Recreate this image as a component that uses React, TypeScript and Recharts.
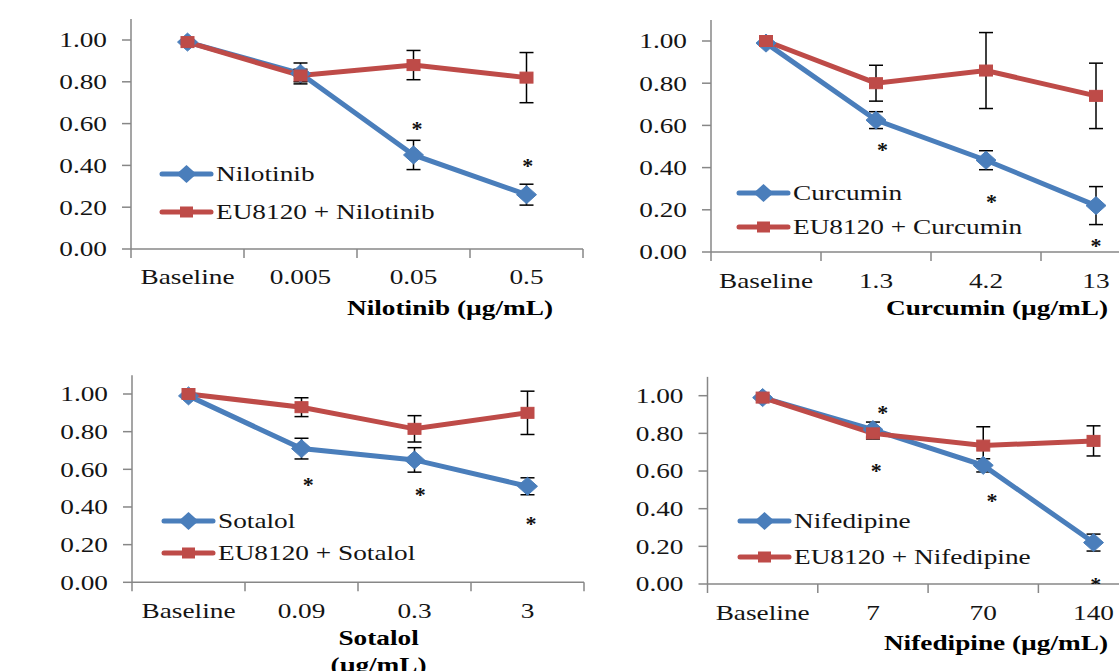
import React from 'react';
import { ComposedChart, Line, XAxis, YAxis, ErrorBar, Scatter, Legend } from 'recharts';

const FONT = '"Liberation Serif", "Times New Roman", serif';
const SX = 1.3;
const FS = 21;
const BLUE = '#4A7EBB';
const RED = '#BE4B48';
const AXIS = '#878787';
const TEXT = '#141414';

const yTicks = [0, 0.2, 0.4, 0.6, 0.8, 1.0];

// Panel 1: Nilotinib
const nilotinibCats = ['Baseline', '0.005', '0.05', '0.5'];
const nilotinibVals = [0.99, 0.84, 0.45, 0.26];
const nilotinibErr = [0, 0.05, 0.07, 0.05];
const euNilotinibVals = [0.99, 0.83, 0.88, 0.82];
const euNilotinibErr = [0, 0.03, 0.07, 0.12];
const nilotinibStarX = [2.03, 3.01];
const nilotinibStarY = [0.59, 0.41];

// Panel 2: Curcumin
const curcuminCats = ['Baseline', '1.3', '4.2', '13'];
const curcuminVals = [0.99, 0.625, 0.435, 0.22];
const curcuminErr = [0, 0.04, 0.045, 0.09];
const euCurcuminVals = [1.0, 0.8, 0.86, 0.74];
const euCurcuminErr = [0, 0.085, 0.18, 0.155];
const curcuminStarX = [1.06, 2.05, 3.0];
const curcuminStarY = [0.5, 0.25, 0.043];

// Panel 3: Sotalol
const sotalolCats = ['Baseline', '0.09', '0.3', '3'];
const sotalolVals = [0.99, 0.71, 0.65, 0.51];
const sotalolErr = [0, 0.055, 0.065, 0.045];
const euSotalolVals = [1.0, 0.93, 0.815, 0.9];
const euSotalolErr = [0, 0.05, 0.07, 0.115];
const sotalolStarX = [1.06, 2.05, 3.03];
const sotalolStarY = [0.534, 0.481, 0.327];

// Panel 4: Nifedipine
const nifedipineCats = ['Baseline', '7', '70', '140'];
const nifedipineVals = [0.99, 0.82, 0.63, 0.22];
const nifedipineErr = [0, 0.04, 0.035, 0.045];
const euNifedipineVals = [0.99, 0.8, 0.735, 0.76];
const euNifedipineErr = [0, 0.03, 0.1, 0.08];
const nifedipineStarX = [1.09, 1.03, 2.08, 3.02];
const nifedipineStarY = [0.924, 0.614, 0.458, 0.012];

type Cfg = {
  left: number; top: number; height: number;
  cats: string[]; a: number[]; aErr: number[]; b: number[]; bErr: number[];
  nameA: string; nameB: string; starX: number[]; starY: number[];
  axisX: number; step: number; zeroY: number; unit: number; labelDy: number;
  title: string[]; titleX: number; titleY: number; titleGap: number;
  legX: number; legY: number[];
};

const panels: Cfg[] = [
  {
    left: 0, top: 0, height: 330,
    cats: nilotinibCats, a: nilotinibVals, aErr: nilotinibErr, b: euNilotinibVals, bErr: euNilotinibErr,
    nameA: 'Nilotinib', nameB: 'EU8120 + Nilotinib', starX: nilotinibStarX, starY: nilotinibStarY,
    axisX: 131, step: 113, zeroY: 249, unit: 209, labelDy: 35,
    title: ['Nilotinib (µg/mL)'], titleX: 450, titleY: 315, titleGap: 27,
    legX: 162, legY: [174, 212],
  },
  {
    left: 560, top: 0, height: 330,
    cats: curcuminCats, a: curcuminVals, aErr: curcuminErr, b: euCurcuminVals, bErr: euCurcuminErr,
    nameA: 'Curcumin', nameB: 'EU8120 + Curcumin', starX: curcuminStarX, starY: curcuminStarY,
    axisX: 151, step: 110, zeroY: 252, unit: 211, labelDy: 36,
    title: ['Curcumin (µg/mL)'], titleX: 437, titleY: 315, titleGap: 27,
    legX: 179, legY: [192.7, 226.7],
  },
  {
    left: 0, top: 330, height: 341,
    cats: sotalolCats, a: sotalolVals, aErr: sotalolErr, b: euSotalolVals, bErr: euSotalolErr,
    nameA: 'Sotalol', nameB: 'EU8120 + Sotalol', starX: sotalolStarX, starY: sotalolStarY,
    axisX: 132, step: 113, zeroY: 252.3, unit: 188.3, labelDy: 36,
    title: ['Sotalol', '(µg/mL)'], titleX: 378.6, titleY: 315, titleGap: 27,
    legX: 164, legY: [190.7, 222.7],
  },
  {
    left: 560, top: 330, height: 341,
    cats: nifedipineCats, a: nifedipineVals, aErr: nifedipineErr, b: euNifedipineVals, bErr: euNifedipineErr,
    nameA: 'Nifedipine', nameB: 'EU8120 + Nifedipine', starX: nifedipineStarX, starY: nifedipineStarY,
    axisX: 147.5, step: 110.3, zeroY: 254, unit: 188.3, labelDy: 36,
    title: ['Nifedipine (µg/mL)'], titleX: 436, titleY: 320, titleGap: 27,
    legX: 180, legY: [190.7, 226.7],
  },
];

const diamondPath = (cx: number, cy: number) =>
  `M${cx - 10},${cy} L${cx},${cy - 9} L${cx + 10},${cy} L${cx},${cy + 9} Z`;

const DiamondDot = (p: any) => {
  if (p.cx == null || p.cy == null) return <g />;
  return <path d={diamondPath(p.cx, p.cy)} fill={BLUE} stroke={BLUE} strokeWidth={1} />;
};
const SquareDot = (p: any) => {
  if (p.cx == null || p.cy == null) return <g />;
  return <rect x={p.cx - 6.5} y={p.cy - 5.5} width={13} height={11} fill={RED} stroke={RED} strokeWidth={1} />;
};
const StarShape = (p: any) => (
  <text x={p.cx} y={p.cy + 10} textAnchor="middle" fontFamily={FONT} fontSize={22} fontWeight="bold" fill="#111">*</text>
);

const YTick = (p: any) => (
  <g transform={`translate(${p.x},${p.y})`}>
    <text transform={`scale(${SX},1)`} textAnchor="end" dy="0.35em" fontFamily={FONT} fontSize={FS} fill={TEXT}>
      {Number(p.payload.value).toFixed(2)}
    </text>
  </g>
);

const makeXTick = (cats: string[], labelDy: number) => (p: any) => {
  const v = p.payload.value;
  if (Number.isInteger(v)) {
    return (
      <g transform={`translate(${p.x},${p.y + labelDy})`}>
        <text transform={`scale(${SX},1)`} textAnchor="middle" fontFamily={FONT} fontSize={FS} fill={TEXT}>
          {cats[v]}
        </text>
      </g>
    );
  }
  return <line x1={p.x} x2={p.x} y1={p.y} y2={p.y + 9} stroke={AXIS} strokeWidth={1.5} />;
};

const makeLegend = (cfg: Cfg) => (props: any) => {
  const all = (props.payload || []).filter((e: any) => e.type !== 'none');
  const order = ['a', 'b'];
  const payload = order
    .map((k) => all.find((e: any) => e.dataKey === k))
    .filter(Boolean);
  const base = cfg.legY[0] - 20;
  return (
    <svg width={420} height={cfg.legY[1] - base + 22} style={{ display: 'block', overflow: 'visible' }}>
      {payload.map((e: any, k: number) => {
        const y = cfg.legY[k] - base;
        const isA = e.dataKey === 'a';
        return (
          <g key={k}>
            <line x1={0} x2={49} y1={y} y2={y} stroke={e.color} strokeWidth={5} strokeLinecap="round" />
            {isA ? (
              <path d={diamondPath(24.5, y)} fill={e.color} />
            ) : (
              <rect x={18} y={y - 5.5} width={13} height={11} fill={e.color} />
            )}
            <g transform={`translate(54,${y})`}>
              <text transform={`scale(${SX},1)`} dy="0.35em" fontFamily={FONT} fontSize={FS} fill={TEXT}>
                {e.value}
              </text>
            </g>
          </g>
        );
      })}
    </svg>
  );
};

const Panel = ({ cfg }: { cfg: Cfg }) => {
  const data = cfg.cats.map((c, i) => ({
    x: i,
    a: cfg.a[i],
    aErr: cfg.aErr[i],
    b: cfg.b[i],
    bErr: cfg.bErr[i],
  }));
  const stars = cfg.starX.map((sx, k) => ({ x: sx, star: cfg.starY[k] }));
  const width = cfg.axisX + 4 * cfg.step + 20;
  const topMargin = cfg.zeroY - 1.1 * cfg.unit;
  const TitleLabel = () => (
    <g>
      {cfg.title.map((t, k) => (
        <g key={k} transform={`translate(${cfg.titleX},${cfg.titleY + k * cfg.titleGap})`}>
          <text transform={`scale(${SX},1)`} textAnchor="middle" fontFamily={FONT} fontSize={FS} fontWeight="bold" fill="#000">
            {t}
          </text>
        </g>
      ))}
    </g>
  );
  return (
    <div style={{ position: 'absolute', left: cfg.left, top: cfg.top }}>
      <ComposedChart
        width={width}
        height={cfg.height}
        data={data}
        margin={{ top: topMargin, right: 20, bottom: 0, left: 0 }}
      >
        <XAxis
          type="number"
          dataKey="x"
          domain={[-0.5, 3.5]}
          ticks={[-0.5, 0, 0.5, 1, 1.5, 2, 2.5, 3, 3.5]}
          interval={0}
          tickSize={0}
          tickMargin={0}
          tickLine={false}
          axisLine={{ stroke: AXIS, strokeWidth: 1.5 }}
          tick={makeXTick(cfg.cats, cfg.labelDy)}
          height={cfg.height - cfg.zeroY}
          label={{ content: TitleLabel } as any}
          allowDataOverflow
        />
        <YAxis
          type="number"
          domain={[0, 1.1]}
          ticks={yTicks}
          interval={0}
          width={cfg.axisX}
          tickSize={9}
          tickMargin={15}
          axisLine={{ stroke: AXIS, strokeWidth: 1.5 }}
          tickLine={{ stroke: AXIS, strokeWidth: 1.5 }}
          tick={YTick}
          allowDataOverflow
        />
        <Legend
          layout="vertical"
          align="center"
          verticalAlign="middle"
          content={makeLegend(cfg)}
          wrapperStyle={{ left: cfg.legX, top: cfg.legY[0] - 20, width: 420 }}
        />
        <Line
          dataKey="a"
          name={cfg.nameA}
          stroke={BLUE}
          strokeWidth={5}
          dot={DiamondDot}
          activeDot={false}
          isAnimationActive={false}
        >
          <ErrorBar dataKey="aErr" direction="y" width={7} stroke="#000" strokeWidth={1.5} isAnimationActive={false} />
        </Line>
        <Line
          dataKey="b"
          name={cfg.nameB}
          stroke={RED}
          strokeWidth={5}
          dot={SquareDot}
          activeDot={false}
          isAnimationActive={false}
        >
          <ErrorBar dataKey="bErr" direction="y" width={7} stroke="#000" strokeWidth={1.5} isAnimationActive={false} />
        </Line>
        <Scatter data={stars} dataKey="star" shape={StarShape} legendType="none" isAnimationActive={false} />
      </ComposedChart>
    </div>
  );
}

export default function App() {
  return (
    <div
      style={{
        position: 'absolute',
        left: 0,
        top: 0,
        width: 1119,
        height: 671,
        overflow: 'hidden',
        background: '#fff',
      }}
    >
      {panels.map((cfg, i) => (
        <Panel key={i} cfg={cfg} />
      ))}
    </div>
  );
}
